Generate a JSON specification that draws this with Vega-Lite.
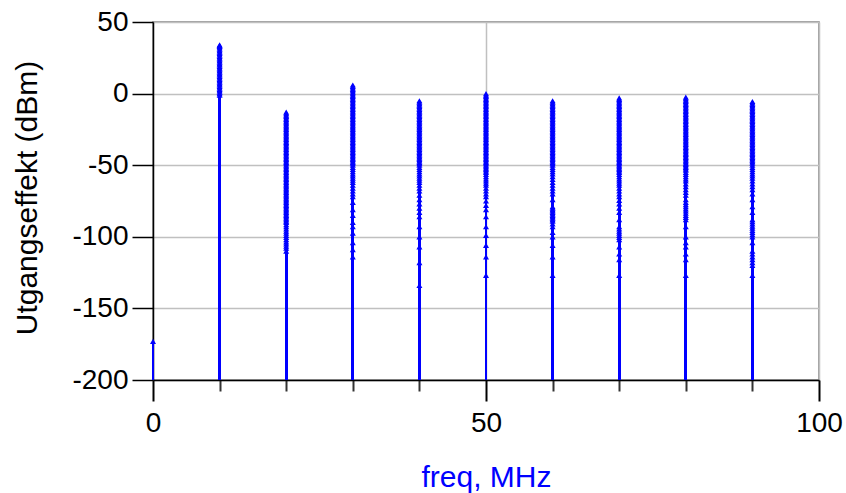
{
  "$schema": "https://vega.github.io/schema/vega-lite/v6.json",
  "width": 666,
  "height": 358,
  "autosize": {"type": "none"},
  "padding": {"left": 153, "top": 22, "right": 27, "bottom": 113},
  "background": "white",
  "config": {
    "view": {"stroke": "#808080", "strokeWidth": 1.5},
    "font": "Liberation Sans"
  },
  "data": {"values": [
    {"f":0,"p":-173},
    {"f":10,"p":34},{"f":10,"p":33.5},{"f":10,"p":33},{"f":10,"p":32},{"f":10,"p":31},{"f":10,"p":30},{"f":10,"p":29},{"f":10,"p":28},{"f":10,"p":27},{"f":10,"p":26},{"f":10,"p":25},{"f":10,"p":24},{"f":10,"p":23},{"f":10,"p":22},{"f":10,"p":21},{"f":10,"p":20},{"f":10,"p":19},{"f":10,"p":18},{"f":10,"p":17},{"f":10,"p":16},{"f":10,"p":15},{"f":10,"p":14},{"f":10,"p":13},{"f":10,"p":12},{"f":10,"p":11},{"f":10,"p":10},{"f":10,"p":9},{"f":10,"p":8},{"f":10,"p":7},{"f":10,"p":6},{"f":10,"p":5},{"f":10,"p":4},{"f":10,"p":3},{"f":10,"p":2},{"f":10,"p":1},{"f":10,"p":0},{"f":10,"p":-1},
    {"f":20,"p":-13},{"f":20,"p":-14},{"f":20,"p":-15},{"f":20,"p":-16},{"f":20,"p":-17},{"f":20,"p":-18},{"f":20,"p":-19},{"f":20,"p":-20},{"f":20,"p":-21},{"f":20,"p":-22},{"f":20,"p":-23},{"f":20,"p":-24},{"f":20,"p":-25},{"f":20,"p":-26},{"f":20,"p":-27},{"f":20,"p":-28},{"f":20,"p":-29},{"f":20,"p":-30},{"f":20,"p":-31},{"f":20,"p":-32},{"f":20,"p":-33},{"f":20,"p":-34},{"f":20,"p":-35},{"f":20,"p":-36},{"f":20,"p":-37},{"f":20,"p":-38},{"f":20,"p":-39},{"f":20,"p":-40},{"f":20,"p":-41},{"f":20,"p":-42},{"f":20,"p":-43},{"f":20,"p":-44},{"f":20,"p":-45},{"f":20,"p":-46},{"f":20,"p":-47},{"f":20,"p":-48},{"f":20,"p":-49},{"f":20,"p":-50},{"f":20,"p":-51},{"f":20,"p":-52},{"f":20,"p":-53},{"f":20,"p":-54},{"f":20,"p":-55},{"f":20,"p":-56},{"f":20,"p":-57},{"f":20,"p":-58},{"f":20,"p":-59},{"f":20,"p":-60},{"f":20,"p":-61},{"f":20,"p":-62},{"f":20,"p":-63},{"f":20,"p":-64},{"f":20,"p":-65},{"f":20,"p":-66},{"f":20,"p":-67},{"f":20,"p":-68},{"f":20,"p":-69},{"f":20,"p":-70},{"f":20,"p":-71},{"f":20,"p":-72},{"f":20,"p":-73},{"f":20,"p":-74},{"f":20,"p":-75},{"f":20,"p":-76},{"f":20,"p":-77},{"f":20,"p":-78},{"f":20,"p":-79},{"f":20,"p":-80},{"f":20,"p":-81},{"f":20,"p":-82},{"f":20,"p":-83},{"f":20,"p":-84},{"f":20,"p":-85},{"f":20,"p":-86},{"f":20,"p":-87},{"f":20,"p":-88},{"f":20,"p":-89},{"f":20,"p":-90},{"f":20,"p":-91.5},{"f":20,"p":-93},{"f":20,"p":-94.5},{"f":20,"p":-96},{"f":20,"p":-97.5},{"f":20,"p":-99},{"f":20,"p":-100.5},{"f":20,"p":-102},{"f":20,"p":-103.5},{"f":20,"p":-105},{"f":20,"p":-106.5},{"f":20,"p":-108},{"f":20,"p":-110},
    {"f":30,"p":6},{"f":30,"p":5},{"f":30,"p":4},{"f":30,"p":3},{"f":30,"p":2},{"f":30,"p":1},{"f":30,"p":0},{"f":30,"p":-1},{"f":30,"p":-2},{"f":30,"p":-3},{"f":30,"p":-4},{"f":30,"p":-5},{"f":30,"p":-6},{"f":30,"p":-7},{"f":30,"p":-8},{"f":30,"p":-9},{"f":30,"p":-10},{"f":30,"p":-11},{"f":30,"p":-12},{"f":30,"p":-13},{"f":30,"p":-14},{"f":30,"p":-15},{"f":30,"p":-16},{"f":30,"p":-17},{"f":30,"p":-18},{"f":30,"p":-19},{"f":30,"p":-20},{"f":30,"p":-21},{"f":30,"p":-22},{"f":30,"p":-23},{"f":30,"p":-24},{"f":30,"p":-25},{"f":30,"p":-26},{"f":30,"p":-27},{"f":30,"p":-28},{"f":30,"p":-29},{"f":30,"p":-30},{"f":30,"p":-31},{"f":30,"p":-32},{"f":30,"p":-33},{"f":30,"p":-34},{"f":30,"p":-35},{"f":30,"p":-36},{"f":30,"p":-37},{"f":30,"p":-38},{"f":30,"p":-39},{"f":30,"p":-40},{"f":30,"p":-41},{"f":30,"p":-42},{"f":30,"p":-43},{"f":30,"p":-44},{"f":30,"p":-45},{"f":30,"p":-46},{"f":30,"p":-47},{"f":30,"p":-48},{"f":30,"p":-49},{"f":30,"p":-50},{"f":30,"p":-51.5},{"f":30,"p":-53},{"f":30,"p":-54.5},{"f":30,"p":-56},{"f":30,"p":-57.5},{"f":30,"p":-59},{"f":30,"p":-60.5},{"f":30,"p":-62},{"f":30,"p":-64},{"f":30,"p":-66},{"f":30,"p":-68},{"f":30,"p":-70},{"f":30,"p":-72},{"f":30,"p":-76},{"f":30,"p":-81},{"f":30,"p":-85},{"f":30,"p":-90},{"f":30,"p":-93},{"f":30,"p":-97.5},{"f":30,"p":-104},{"f":30,"p":-109},{"f":30,"p":-114},
    {"f":40,"p":-5},{"f":40,"p":-6},{"f":40,"p":-7},{"f":40,"p":-8},{"f":40,"p":-9},{"f":40,"p":-10},{"f":40,"p":-11},{"f":40,"p":-12},{"f":40,"p":-13},{"f":40,"p":-14},{"f":40,"p":-15},{"f":40,"p":-16},{"f":40,"p":-17},{"f":40,"p":-18},{"f":40,"p":-19},{"f":40,"p":-20},{"f":40,"p":-21},{"f":40,"p":-22},{"f":40,"p":-23},{"f":40,"p":-24},{"f":40,"p":-25},{"f":40,"p":-26},{"f":40,"p":-27},{"f":40,"p":-28},{"f":40,"p":-29},{"f":40,"p":-30},{"f":40,"p":-31},{"f":40,"p":-32},{"f":40,"p":-33},{"f":40,"p":-34},{"f":40,"p":-35},{"f":40,"p":-36},{"f":40,"p":-37},{"f":40,"p":-38},{"f":40,"p":-39},{"f":40,"p":-40},{"f":40,"p":-41},{"f":40,"p":-42},{"f":40,"p":-43},{"f":40,"p":-44},{"f":40,"p":-45},{"f":40,"p":-46},{"f":40,"p":-47},{"f":40,"p":-48},{"f":40,"p":-49},{"f":40,"p":-50},{"f":40,"p":-51.5},{"f":40,"p":-53},{"f":40,"p":-54.5},{"f":40,"p":-56},{"f":40,"p":-57.5},{"f":40,"p":-59},{"f":40,"p":-60.5},{"f":40,"p":-62},{"f":40,"p":-64},{"f":40,"p":-66},{"f":40,"p":-68},{"f":40,"p":-71},{"f":40,"p":-74},{"f":40,"p":-77},{"f":40,"p":-80},{"f":40,"p":-83},{"f":40,"p":-86},{"f":40,"p":-93},{"f":40,"p":-100},{"f":40,"p":-107},{"f":40,"p":-118},{"f":40,"p":-134},
    {"f":50,"p":0},{"f":50,"p":-1},{"f":50,"p":-2},{"f":50,"p":-3},{"f":50,"p":-4},{"f":50,"p":-5},{"f":50,"p":-6},{"f":50,"p":-7},{"f":50,"p":-8},{"f":50,"p":-9},{"f":50,"p":-10},{"f":50,"p":-11},{"f":50,"p":-12},{"f":50,"p":-13},{"f":50,"p":-14},{"f":50,"p":-15},{"f":50,"p":-16},{"f":50,"p":-17},{"f":50,"p":-18},{"f":50,"p":-19},{"f":50,"p":-20},{"f":50,"p":-21},{"f":50,"p":-22},{"f":50,"p":-23},{"f":50,"p":-24},{"f":50,"p":-25},{"f":50,"p":-26},{"f":50,"p":-27},{"f":50,"p":-28},{"f":50,"p":-29},{"f":50,"p":-30},{"f":50,"p":-31},{"f":50,"p":-32},{"f":50,"p":-33},{"f":50,"p":-34},{"f":50,"p":-35},{"f":50,"p":-36},{"f":50,"p":-37},{"f":50,"p":-38},{"f":50,"p":-39},{"f":50,"p":-40},{"f":50,"p":-41},{"f":50,"p":-42},{"f":50,"p":-43},{"f":50,"p":-44},{"f":50,"p":-45},{"f":50,"p":-46},{"f":50,"p":-47},{"f":50,"p":-48},{"f":50,"p":-49},{"f":50,"p":-50},{"f":50,"p":-51},{"f":50,"p":-52},{"f":50,"p":-53},{"f":50,"p":-54},{"f":50,"p":-55},{"f":50,"p":-56.5},{"f":50,"p":-58},{"f":50,"p":-59.5},{"f":50,"p":-61},{"f":50,"p":-62.5},{"f":50,"p":-64},{"f":50,"p":-66},{"f":50,"p":-68},{"f":50,"p":-70},{"f":50,"p":-72},{"f":50,"p":-75},{"f":50,"p":-78},{"f":50,"p":-81},{"f":50,"p":-86},{"f":50,"p":-93},{"f":50,"p":-99},{"f":50,"p":-106},{"f":50,"p":-114},{"f":50,"p":-127},
    {"f":60,"p":-5},{"f":60,"p":-6},{"f":60,"p":-7},{"f":60,"p":-8},{"f":60,"p":-9},{"f":60,"p":-10},{"f":60,"p":-11},{"f":60,"p":-12},{"f":60,"p":-13},{"f":60,"p":-14},{"f":60,"p":-15},{"f":60,"p":-16},{"f":60,"p":-17},{"f":60,"p":-18},{"f":60,"p":-19},{"f":60,"p":-20},{"f":60,"p":-21},{"f":60,"p":-22},{"f":60,"p":-23},{"f":60,"p":-24},{"f":60,"p":-25},{"f":60,"p":-26},{"f":60,"p":-27},{"f":60,"p":-28},{"f":60,"p":-29},{"f":60,"p":-30},{"f":60,"p":-31},{"f":60,"p":-32},{"f":60,"p":-33},{"f":60,"p":-34},{"f":60,"p":-35},{"f":60,"p":-36},{"f":60,"p":-37},{"f":60,"p":-38},{"f":60,"p":-39},{"f":60,"p":-40},{"f":60,"p":-41},{"f":60,"p":-42},{"f":60,"p":-43},{"f":60,"p":-44},{"f":60,"p":-45},{"f":60,"p":-46},{"f":60,"p":-47},{"f":60,"p":-48},{"f":60,"p":-49},{"f":60,"p":-50},{"f":60,"p":-51.5},{"f":60,"p":-53},{"f":60,"p":-54.5},{"f":60,"p":-56},{"f":60,"p":-58},{"f":60,"p":-60},{"f":60,"p":-62},{"f":60,"p":-64},{"f":60,"p":-66},{"f":60,"p":-68},{"f":60,"p":-70},{"f":60,"p":-74},{"f":60,"p":-79},{"f":60,"p":-80},{"f":60,"p":-81},{"f":60,"p":-82},{"f":60,"p":-83},{"f":60,"p":-84},{"f":60,"p":-85},{"f":60,"p":-86},{"f":60,"p":-87},{"f":60,"p":-88},{"f":60,"p":-89},{"f":60,"p":-91},{"f":60,"p":-93},{"f":60,"p":-97},{"f":60,"p":-100},{"f":60,"p":-106},{"f":60,"p":-114},{"f":60,"p":-127},
    {"f":70,"p":-3},{"f":70,"p":-4},{"f":70,"p":-5},{"f":70,"p":-6},{"f":70,"p":-7},{"f":70,"p":-8},{"f":70,"p":-9},{"f":70,"p":-10},{"f":70,"p":-11},{"f":70,"p":-12},{"f":70,"p":-13},{"f":70,"p":-14},{"f":70,"p":-15},{"f":70,"p":-16},{"f":70,"p":-17},{"f":70,"p":-18},{"f":70,"p":-19},{"f":70,"p":-20},{"f":70,"p":-21},{"f":70,"p":-22},{"f":70,"p":-23},{"f":70,"p":-24},{"f":70,"p":-25},{"f":70,"p":-26},{"f":70,"p":-27},{"f":70,"p":-28},{"f":70,"p":-29},{"f":70,"p":-30},{"f":70,"p":-31},{"f":70,"p":-32},{"f":70,"p":-33},{"f":70,"p":-34},{"f":70,"p":-35},{"f":70,"p":-36},{"f":70,"p":-37},{"f":70,"p":-38},{"f":70,"p":-39},{"f":70,"p":-40},{"f":70,"p":-41},{"f":70,"p":-42},{"f":70,"p":-43},{"f":70,"p":-44},{"f":70,"p":-45},{"f":70,"p":-46},{"f":70,"p":-47},{"f":70,"p":-48},{"f":70,"p":-49},{"f":70,"p":-50},{"f":70,"p":-51},{"f":70,"p":-52},{"f":70,"p":-53},{"f":70,"p":-54},{"f":70,"p":-55},{"f":70,"p":-56.5},{"f":70,"p":-58},{"f":70,"p":-59.5},{"f":70,"p":-61},{"f":70,"p":-62.5},{"f":70,"p":-64},{"f":70,"p":-66},{"f":70,"p":-68},{"f":70,"p":-70},{"f":70,"p":-72},{"f":70,"p":-74.5},{"f":70,"p":-77},{"f":70,"p":-80},{"f":70,"p":-83},{"f":70,"p":-88},{"f":70,"p":-93},{"f":70,"p":-94.5},{"f":70,"p":-96},{"f":70,"p":-97.5},{"f":70,"p":-99},{"f":70,"p":-100.5},{"f":70,"p":-102},{"f":70,"p":-107},{"f":70,"p":-112},{"f":70,"p":-116},{"f":70,"p":-127},
    {"f":80,"p":-2.5},{"f":80,"p":-3.5},{"f":80,"p":-4.5},{"f":80,"p":-5.5},{"f":80,"p":-6.5},{"f":80,"p":-7.5},{"f":80,"p":-8.5},{"f":80,"p":-9.5},{"f":80,"p":-10.5},{"f":80,"p":-11.5},{"f":80,"p":-12.5},{"f":80,"p":-13.5},{"f":80,"p":-14.5},{"f":80,"p":-15.5},{"f":80,"p":-16.5},{"f":80,"p":-17.5},{"f":80,"p":-18.5},{"f":80,"p":-19.5},{"f":80,"p":-20.5},{"f":80,"p":-21.5},{"f":80,"p":-22.5},{"f":80,"p":-23.5},{"f":80,"p":-24.5},{"f":80,"p":-25.5},{"f":80,"p":-26.5},{"f":80,"p":-27.5},{"f":80,"p":-28.5},{"f":80,"p":-29.5},{"f":80,"p":-30.5},{"f":80,"p":-31.5},{"f":80,"p":-32.5},{"f":80,"p":-33.5},{"f":80,"p":-34.5},{"f":80,"p":-35.5},{"f":80,"p":-36.5},{"f":80,"p":-37.5},{"f":80,"p":-38.5},{"f":80,"p":-39.5},{"f":80,"p":-40.5},{"f":80,"p":-41.5},{"f":80,"p":-42.5},{"f":80,"p":-43.5},{"f":80,"p":-44.5},{"f":80,"p":-45.5},{"f":80,"p":-46.5},{"f":80,"p":-47.5},{"f":80,"p":-48.5},{"f":80,"p":-49.5},{"f":80,"p":-50.5},{"f":80,"p":-51.5},{"f":80,"p":-52.5},{"f":80,"p":-53.5},{"f":80,"p":-55},{"f":80,"p":-56.5},{"f":80,"p":-58},{"f":80,"p":-59.5},{"f":80,"p":-61},{"f":80,"p":-63},{"f":80,"p":-65},{"f":80,"p":-67},{"f":80,"p":-69},{"f":80,"p":-71},{"f":80,"p":-74},{"f":80,"p":-76},{"f":80,"p":-77.5},{"f":80,"p":-79},{"f":80,"p":-80.5},{"f":80,"p":-82},{"f":80,"p":-83.5},{"f":80,"p":-85},{"f":80,"p":-86.5},{"f":80,"p":-88},{"f":80,"p":-93},{"f":80,"p":-100},{"f":80,"p":-104},{"f":80,"p":-107},{"f":80,"p":-112},{"f":80,"p":-116},{"f":80,"p":-127},
    {"f":90,"p":-5.5},{"f":90,"p":-6.5},{"f":90,"p":-7.5},{"f":90,"p":-8.5},{"f":90,"p":-9.5},{"f":90,"p":-10.5},{"f":90,"p":-11.5},{"f":90,"p":-12.5},{"f":90,"p":-13.5},{"f":90,"p":-14.5},{"f":90,"p":-15.5},{"f":90,"p":-16.5},{"f":90,"p":-17.5},{"f":90,"p":-18.5},{"f":90,"p":-19.5},{"f":90,"p":-20.5},{"f":90,"p":-21.5},{"f":90,"p":-22.5},{"f":90,"p":-23.5},{"f":90,"p":-24.5},{"f":90,"p":-25.5},{"f":90,"p":-26.5},{"f":90,"p":-27.5},{"f":90,"p":-28.5},{"f":90,"p":-29.5},{"f":90,"p":-30.5},{"f":90,"p":-31.5},{"f":90,"p":-32.5},{"f":90,"p":-33.5},{"f":90,"p":-34.5},{"f":90,"p":-35.5},{"f":90,"p":-36.5},{"f":90,"p":-37.5},{"f":90,"p":-38.5},{"f":90,"p":-39.5},{"f":90,"p":-40.5},{"f":90,"p":-41.5},{"f":90,"p":-42.5},{"f":90,"p":-43.5},{"f":90,"p":-44.5},{"f":90,"p":-45.5},{"f":90,"p":-46.5},{"f":90,"p":-47.5},{"f":90,"p":-48.5},{"f":90,"p":-50},{"f":90,"p":-51.5},{"f":90,"p":-53},{"f":90,"p":-54.5},{"f":90,"p":-56},{"f":90,"p":-57.5},{"f":90,"p":-59},{"f":90,"p":-61},{"f":90,"p":-63},{"f":90,"p":-65},{"f":90,"p":-67},{"f":90,"p":-70},{"f":90,"p":-74},{"f":90,"p":-79},{"f":90,"p":-83},{"f":90,"p":-88},{"f":90,"p":-89.5},{"f":90,"p":-91},{"f":90,"p":-92.5},{"f":90,"p":-94},{"f":90,"p":-95.5},{"f":90,"p":-97},{"f":90,"p":-98.5},{"f":90,"p":-100},{"f":90,"p":-104},{"f":90,"p":-110},{"f":90,"p":-112},{"f":90,"p":-114},{"f":90,"p":-116},{"f":90,"p":-118},{"f":90,"p":-120},{"f":90,"p":-127}
  ]},
  "layer": [
    {
      "mark": {"type": "rule", "color": "#0000ff", "strokeWidth": 2},
      "encoding": {
        "x": {
          "field": "f", "type": "quantitative",
          "scale": {"domain": [0, 100], "nice": false, "zero": false},
          "axis": {
            "values": [0, 10, 20, 30, 40, 50, 60, 70, 80, 90, 100],
            "labelExpr": "datum.value % 50 === 0 ? '' + datum.value : ''",
            "domainColor": "black", "domainWidth": 1.5,
            "tickColor": {"condition": {"test": "datum.value % 50 === 0", "value": "black"}, "value": "#333333"},
            "tickSize": {"condition": {"test": "datum.value % 50 === 0", "value": 21}, "value": 11},
            "tickWidth": 2,
            "grid": true,
            "gridColor": {"condition": {"test": "datum.value === 50 || datum.value === 100", "value": "#c0c0c0"}, "value": "transparent"},
            "gridWidth": 1.5,
            "labelFontSize": 28, "labelColor": "black", "labelFont": "Liberation Sans",
            "labelPadding": 8, "labelBaseline": "top", "labelFlush": false, "labelOverlap": false,
            "title": "freq, MHz", "titleFontSize": 30, "titleFontWeight": "normal",
            "titleColor": "#0000ff", "titleFont": "Liberation Sans",
            "titleX": 333, "titleY": 106, "titleBaseline": "alphabetic", "titleAlign": "center"
          }
        },
        "y": {
          "field": "p", "type": "quantitative",
          "scale": {"domain": [-200, 50], "nice": false, "zero": false},
          "axis": {
            "values": [50, 0, -50, -100, -150, -200], "labelExpr": "'' + datum.value",
            "domainColor": "black", "domainWidth": 1.5,
            "tickColor": "black", "tickSize": 21, "tickWidth": 1.5,
            "grid": true, "gridColor": "#c0c0c0", "gridWidth": 1.5,
            "labelFontSize": 28, "labelColor": "black", "labelFont": "Liberation Sans",
            "labelPadding": 4, "labelFlush": false, "labelBaseline": "middle",
            "title": "Utgangseffekt (dBm)", "titleFontSize": 30, "titleFontWeight": "normal",
            "titleColor": "black", "titleFont": "Liberation Sans",
            "titleAngle": -90, "titleX": -117, "titleY": 175.5,
            "titleBaseline": "alphabetic", "titleAlign": "center"
          }
        },
        "y2": {"datum": -200}
      }
    },
    {
      "mark": {"type": "point", "shape": "triangle-up", "filled": true, "color": "#0000ff", "size": 36, "opacity": 1},
      "encoding": {
        "x": {"field": "f", "type": "quantitative"},
        "y": {"field": "p", "type": "quantitative"}
      }
    }
  ]
}
